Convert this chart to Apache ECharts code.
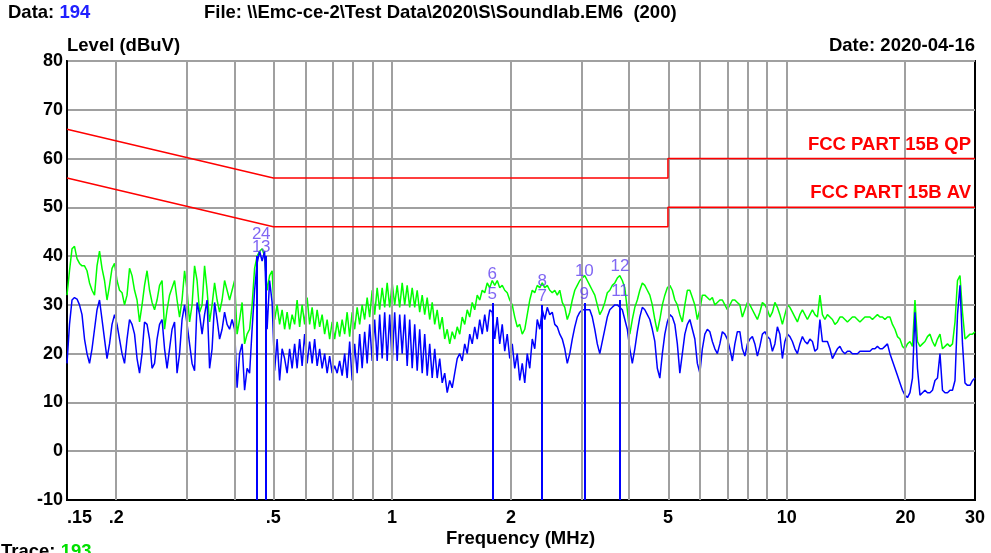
<!DOCTYPE html>
<html><head><meta charset="utf-8">
<script src="https://cdn.jsdelivr.net/npm/echarts@6/dist/echarts.min.js"></script>
<style>html,body{margin:0;padding:0;background:#fff}#c{width:991px;height:553px}</style>
</head><body><div id="c"></div><script>
// Receiver sweep (log-spaced points from start to stop)
const sweepStartMHz = 0.15, sweepStopMHz = 30;
// Peak/QP trace (green), dBuV, one value per sweep point
const qpTrace = [
32,37,41.5,42,39.5,38.5,38,38,37,34.5,
33,32,38,41,37.5,35,31,34,37.5,38.5,
35,33,32.5,30,32,37.5,36,33,31,26.5,
30,34,37,33,30.5,29,31,34,35,25,
29,32,33.5,35,31,27.5,31,37,33,26.5,
30,38,35,28.5,30,38,33,26.5,30,34.5,
31,28.5,31,35,33,31,33,35,24,27,
30.5,22,24,25,30,37.5,40,
41,41.5,40,33,36,37,27,30,26,29,
25,28.5,25,28,26,31,25.5,30,26,31.5,
26,29.5,25,29,25.5,28,24,27,23,26.5,
23,26.5,23.5,27,24,28.5,23.5,28.5,25,29.5,
26,30,27,31.5,27.5,33,28,33.5,29,33.5,
29.5,34.5,29.5,34.5,30,34,29.5,34.5,30,34,
29.5,33.5,29.5,33,28.5,32,28,31.5,27,30.5,
26,29,25,27.5,23,25,22,24.5,23,25.5,
24,27.5,26,29,27.5,30.5,29,32,31,33,
32.5,34.5,33.5,
35,34,35,33.5,34,33,32.5,31,30,27.5,
25.5,26,24,25,28,31,33,32.5,34,33.5,
34.5,33.5,34,33,32.5,33,32,33,30.5,29.5,
27,28.5,31,33,34,35,35.5,36,35,34,
33,32,30,28,29,30.5,32.5,33,34,34.5,
35.5,36,35,33.5,29,24,27,29.5,31,33,
34.5,34,33,32,30,27,24.5,27,30,32,
33.5,34,33,31,30,28,26.5,30,33,33,
31.5,30,27,29,32,32,31.5,31,31.5,30,
30.5,31,31,30,29,30,31,31,30.5,30,
27.5,29,30.5,30,29,28,27,28.5,30.5,30,
29,27.5,28.5,30.5,29.5,28,26,28,30,29.5,
28.5,27.5,26.5,28,29,28,27,28,29,28,
27.5,32,28,27,28,27.5,27,26,26.5,27.5,
27.5,27,26.5,27,27.5,27.5,27,26.5,27,27.5,
27.5,27.5,27,27.5,28,27.5,27.5,27,27.5,27.5,
26,25,23.5,23,21.5,21,22,22.5,21.5,31,
22.5,21.5,22,22.5,23.5,24,22.5,21.5,23,24,
21,21.5,22,21.5,22,26.5,35,36,28.5,23,
23.5,24,24,24.5];
// Average trace (blue), dBuV
const avTrace = [
18,26,31,31.5,31.2,30,28,23,20,18,
21,25,29,31,27,23,19,22,26,28,
26,23,20,18,23,27,26,24,19,16,
20,26.5,26,23,17,18,23,26,27,21,
17,21,25,26.5,16,20,27,30,26,22,
18,16.5,30.5,28,24,28,31,17,21,30.5,
27,23,25,28.5,26,25,27,25,13,20,
22,12.5,17,16,25,33,38.5,
41,39,41,25,35,30.5,16.5,23,14.5,21,
19,16,21,17,22,17,23,17.5,24,18,
22.5,18,23,17.5,21,17,20,16,19.5,16,
17.5,16,18.5,15.5,20,15,22.5,14.5,22,16,
24,17,24.5,18,26,18.5,27,18.5,28,19,
28.5,18.5,28,18,28.5,18.5,28,20,28,17.5,
27,17,26,16.5,25,16,24,15.5,22,15,
21,15,19,14,16,12,14.5,13,16,19,
20,18.5,22,20,24,22,25.5,23,27,24,
28,24.5,29,
28.5,23,27.5,22,26,20.5,24,19,22,17,
20,14.5,18,14,20,17,23,21,27,25,
29,27,29.5,28,28.5,26,25.5,24,23,21,
18,20,23,25.5,27.5,28.5,29,29,29,29,
27.5,25,22,20,22.5,25,27.5,29,29.5,30,
30,29.5,29,27,25,21,18,21,24.5,27.5,
29.5,29,28,27,25,22.5,17,15,20,24,
26.5,28,27.5,26,22,16,20,24,26,27,
25,23,18,16,21,24,25,24.5,22.5,21,
20,22,24.5,24,23,21,18.5,22,24.5,24.5,
21,19.5,22,23,23.5,22,19.5,21.5,24,24.5,
23.5,23,20.5,22,25.5,24,19,22.5,24,23.5,
22.5,21,20,22,23.5,22.5,22,23,22.5,20.5,
21,27,22.5,22.5,22.5,21,19,20,21,21.5,
20.5,20,20.5,20.5,20,20,20,20.5,20.5,20.5,
20.5,20.5,21,21,21.5,21,21,21.5,22,20,
18.5,17,15.5,14,12.5,11.5,11,12,15,28.5,
17,11.5,12,12.5,12,12,12.5,14.5,15,20,
12.5,12,12,12.5,12.5,14.5,28,34,22,14,
13.5,13.5,14.5,15];
// Limit lines [MHz, dBuV]
const qpLimitFreq = [0.15, 0.5, 5, 5, 30];
const qpLimitLevel = [66, 56, 56, 60, 60];
const avLimitFreq = [0.15, 0.5, 5, 5, 30];
const avLimitLevel = [56, 46, 46, 50, 50];
const qpLimitName = 'FCC PART 15B QP';
const avLimitName = 'FCC PART 15B AV';
// Markers
const markerNo = ['1','2','3','4','5','6','7','8','9','10','11','12'];
const markerFreq = [0.454,0.454,0.478,0.478,1.794,1.794,2.40,2.40,3.07,3.07,3.78,3.78];
const markerLevel = [40.0,42.7,40.0,42.7,30.4,34.5,30.0,33.0,30.4,35.1,31.0,36.1];
const markerIsAV = [true,false,true,false,true,false,true,false,true,false,true,false];
// Axes
const xTickFreq = [0.15,0.2,0.5,1,2,5,10,20,30];
const xTickText = ['.15','.2','.5','1','2','5','10','20','30'];
const xGridFreq = [0.2,0.3,0.4,0.5,0.6,0.7,0.8,0.9,1,2,3,4,5,6,7,8,9,10,20];
const yMin = -10, yMax = 80, yStep = 10;

const L = Math.log10;
const FONT = '"Liberation Sans", Arial, sans-serif';
const TXT = 18.5;
const n = qpTrace.length;
const sweepFreq = qpTrace.map((_, i) => sweepStartMHz * Math.pow(sweepStopMHz / sweepStartMHz, i / (n - 1)));
const qpData = qpTrace.map((v, i) => [L(sweepFreq[i]), v]);
const avData = avTrace.map((v, i) => [L(sweepFreq[i]), v]);
const qpLim = qpLimitFreq.map((f, i) => [L(f), qpLimitLevel[i]]);
const avLim = avLimitFreq.map((f, i) => [L(f), avLimitLevel[i]]);
const markerData = markerNo.map((t, i) => ({ value: [L(markerFreq[i]), markerLevel[i]], name: t }));
const markerLines = markerNo.map((t, i) => i).filter(i => markerIsAV[i])
  .map(i => [{ coord: [L(markerFreq[i]), yMin] }, { coord: [L(markerFreq[i]), markerLevel[i]] }]);

const chart = echarts.init(document.getElementById('c'), null, { renderer: 'canvas' });
chart.setOption({
  animation: false,
  backgroundColor: '#fff',
  grid: { left: 67, right: 16, top: 61, bottom: 53, show: true, borderColor: '#000', borderWidth: 2, backgroundColor: 'transparent' },
  xAxis: {
    type: 'value', min: L(sweepStartMHz), max: L(sweepStopMHz),
    axisLine: { show: true, onZero: false, lineStyle: { color: '#000', width: 2 } },
    axisTick: { show: false },
    splitLine: { show: false },
    axisLabel: {
      customValues: xTickFreq.map(L), margin: 9,
      color: '#000', fontSize: 18, fontWeight: 'bold', fontFamily: FONT,
      alignMinLabel: 'left',
      formatter: v => { const k = xTickFreq.findIndex(f => Math.abs(L(f) - v) < 1e-6); return k >= 0 ? xTickText[k] : ''; }
    }
  },
  yAxis: {
    type: 'value', min: yMin, max: yMax, interval: yStep,
    axisLine: { show: true, onZero: false, lineStyle: { color: '#000', width: 2 } },
    axisTick: { show: false },
    splitLine: { show: true, lineStyle: { color: '#a0a0a0', width: 2 } },
    axisLabel: { color: '#000', fontSize: 18, fontWeight: 'bold', fontFamily: FONT, margin: 4 }
  },
  series: [
    { type: 'line', data: [], silent: true, z: 1,
      markLine: { silent: true, symbol: ['none','none'], label: { show: false },
        lineStyle: { color: '#a0a0a0', width: 2, type: 'solid' },
        data: xGridFreq.map(f => ({ xAxis: L(f) })) } },
    { type: 'line', data: qpData, showSymbol: false, z: 3,
      lineStyle: { color: '#00ff00', width: 1.5 }, itemStyle: { color: '#00ff00' } },
    { type: 'line', data: avData, showSymbol: false, z: 4,
      lineStyle: { color: '#0000ff', width: 1.5 }, itemStyle: { color: '#0000ff' },
      markLine: { silent: true, symbol: ['none','none'], label: { show: false },
        lineStyle: { color: '#0000ff', width: 2, type: 'solid' }, data: markerLines } },
    { type: 'line', data: qpLim, showSymbol: false, z: 5,
      lineStyle: { color: '#ff0000', width: 1.5 }, itemStyle: { color: '#ff0000' },
      markPoint: { symbol: 'circle', symbolSize: 0, data: [{ coord: qpLim[qpLim.length - 1] }],
        label: { show: true, formatter: qpLimitName, position: 'left', distance: 0, offset: [-4, -14],
          color: '#ff0000', fontSize: TXT, fontWeight: 'bold', fontFamily: FONT } } },
    { type: 'line', data: avLim, showSymbol: false, z: 5,
      lineStyle: { color: '#ff0000', width: 1.5 }, itemStyle: { color: '#ff0000' },
      markPoint: { symbol: 'circle', symbolSize: 0, data: [{ coord: avLim[avLim.length - 1] }],
        label: { show: true, formatter: avLimitName, position: 'left', distance: 0, offset: [-4, -14],
          color: '#ff0000', fontSize: TXT, fontWeight: 'bold', fontFamily: FONT } } },
    { type: 'scatter', data: markerData, symbolSize: 1, z: 6,
      itemStyle: { color: 'rgba(0,0,0,0)' },
      label: { show: true, position: 'top', distance: 0, formatter: p => p.name,
        color: '#6040f0', fontSize: 17, fontFamily: FONT } }
  ],
  graphic: [
    { type: 'text', left: 8, top: 3, style: { text: 'Data: {b|194}', fill: '#000', fontSize: TXT, fontWeight: 'bold', fontFamily: FONT,
      rich: { b: { fill: '#2020ff', fontSize: TXT, fontWeight: 'bold', fontFamily: FONT } } } },
    { type: 'text', left: 204, top: 3, style: { text: 'File: \\\\Emc-ce-2\\Test Data\\2020\\S\\Soundlab.EM6  (200)', fill: '#000', fontSize: TXT, fontWeight: 'bold', fontFamily: FONT } },
    { type: 'text', left: 67, top: 36, style: { text: 'Level (dBuV)', fill: '#000', fontSize: TXT, fontWeight: 'bold', fontFamily: FONT } },
    { type: 'text', right: 16, top: 36, style: { text: 'Date: 2020-04-16', fill: '#000', fontSize: TXT, fontWeight: 'bold', fontFamily: FONT } },
    { type: 'text', left: 446, top: 529, style: { text: 'Frequency (MHz)', fill: '#000', fontSize: TXT, fontWeight: 'bold', fontFamily: FONT } },
    { type: 'text', left: 1, top: 542, style: { text: 'Trace: {g|193}', fill: '#000', fontSize: TXT, fontWeight: 'bold', fontFamily: FONT,
      rich: { g: { fill: '#00e000', fontSize: TXT, fontWeight: 'bold', fontFamily: FONT } } } }
  ]
});
</script></body></html>
